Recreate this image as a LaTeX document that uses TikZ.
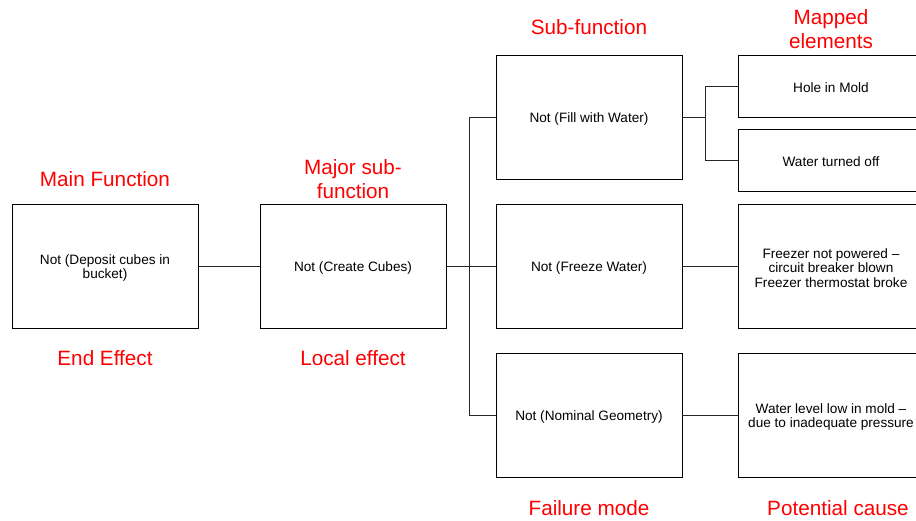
\documentclass[tikz,border=0pt]{standalone}
\usepackage{fontspec}
\setmainfont{Liberation Sans}
\begin{document}
\begin{tikzpicture}[x=1pt,y=-1pt,
  box/.style={draw=black,line width=0.9pt,minimum width=186pt,minimum height=124pt,inner sep=0pt},
  sbox/.style={box,minimum height=62pt},
  btxt/.style={align=center,inner sep=0pt,yshift=-2pt,font=\fontsize{13.6}{14.6}\selectfont},
  lab/.style={text=red,align=center,font=\fontsize{20.7}{24}\selectfont},
  conn/.style={draw=black!85,line width=0.8pt}]
\useasboundingbox (0,0) rectangle (916,520);
\clip (0,0) rectangle (916,520);
\fill[white] (0,0) rectangle (916,520);
% boxes
\node[box,label={[btxt]center:{Not (Deposit cubes in\\bucket)}}] (A) at (105,266) {};
\node[box,label={[btxt]center:{Not (Create Cubes)}}] (B) at (353,266) {};
\node[box,label={[btxt]center:{Not (Fill with Water)}}] (C1) at (589,117) {};
\node[box,label={[btxt]center:{Not (Freeze Water)}}] (C2) at (589,266) {};
\node[box,label={[btxt]center:{Not (Nominal Geometry)}}] (C3) at (589,415) {};
\node[sbox,label={[btxt]center:{Hole in Mold}}] (D1) at (831,86) {};
\node[sbox,label={[btxt]center:{Water turned off}}] (D2) at (831,160) {};
\node[box,label={[btxt]center:{Freezer not powered –\\circuit breaker blown\\Freezer thermostat broke}}] (D3) at (831,266) {};
\node[box,label={[btxt]center:{Water level low in mold –\\due to inadequate pressure}}] (D4) at (831,415) {};
% connectors
\draw[conn] (A.east) -- (B.west);
\draw[conn] (B.east) -- (C2.west);
\draw[conn] (C1.west) -- ++(-26,0) coordinate (t) -- (t |- C3.west) -- (C3.west);
\draw[conn] (C1.east) -- ++(24,0) coordinate (u);
\draw[conn] (D1.west) -- ++(-32,0) |- (D2.west);
\draw[conn] (C2.east) -- (D3.west);
\draw[conn] (C3.east) -- (D4.west);
% labels
\node[lab] (l1) at (105,179) {Main Function};
\node[lab] (l2) at (105,358) {End Effect};
\node[lab] (l3) at (353,179) {Major sub-\\function};
\node[lab] (l4) at (353,358) {Local effect};
\node[lab] (l5) at (589,27) {Sub-function};
\node[lab] (l6) at (589,508) {Failure mode};
\node[lab] (l7) at (831,29) {Mapped\\elements};
\node[lab] (l8) at (838,508) {Potential cause};
\end{tikzpicture}
\end{document}
